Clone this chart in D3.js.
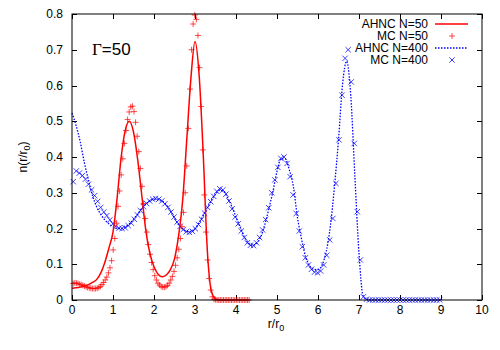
<!DOCTYPE html>
<html>
<head>
<meta charset="utf-8">
<script src="https://cdnjs.cloudflare.com/ajax/libs/d3/7.8.5/d3.min.js"></script>
<style>
  body { margin: 0; background: #fff; }
  svg text { font-family: "Liberation Sans", Arial, sans-serif; font-size: 12px; fill: #000; }
</style>
</head>
<body>
<svg id="mysvg" width="500" height="350"></svg>
<script>
// AHNC curves, sampled every 0.1 in r/r0
var ahnc50R0 = 0, ahnc50Step = 0.1;
var ahnc50 = [0.033, 0.034, 0.036, 0.039, 0.043, 0.049, 0.057, 0.075, 0.105, 0.145,
              0.19, 0.285, 0.40, 0.475, 0.50, 0.47, 0.395, 0.295, 0.195, 0.13,
              0.093, 0.072, 0.065, 0.07, 0.085, 0.115, 0.18, 0.28, 0.45, 0.62,
              0.723, 0.63, 0.41, 0.14, 0.025, 0.003, 0];

var ahnc400R0 = 0, ahnc400Step = 0.1;
var ahnc400 = [0.523, 0.488, 0.443, 0.385, 0.336, 0.292, 0.261, 0.24, 0.224, 0.213,
               0.205, 0.2, 0.2, 0.205, 0.213, 0.226, 0.24, 0.256, 0.268, 0.278,
               0.282, 0.282, 0.277, 0.266, 0.25, 0.229, 0.211, 0.199, 0.192, 0.191,
               0.2, 0.216, 0.236, 0.258, 0.279, 0.296, 0.307, 0.304, 0.285, 0.261,
               0.232, 0.204, 0.177, 0.16, 0.153, 0.158, 0.176, 0.21, 0.255, 0.303,
               0.36, 0.395, 0.395, 0.364, 0.317, 0.23, 0.17, 0.12, 0.095, 0.086,
               0.085, 0.098, 0.135, 0.205, 0.315, 0.448, 0.605, 0.668, 0.57, 0.345,
               0.13, 0.012, 0.001, 0, 0, 0, 0, 0, 0, 0,
               0, 0, 0, 0, 0, 0, 0, 0, 0, 0, 0];

// MC histograms
var mc50R0 = 0.03, mc50Step = 0.039;
var mc50 = [0.046, 0.048, 0.047, 0.046, 0.044, 0.043, 0.041, 0.039, 0.037, 0.035,
            0.034, 0.033, 0.032, 0.032, 0.032, 0.033, 0.035, 0.038, 0.043, 0.049,
            0.056, 0.064, 0.076, 0.090, 0.110, 0.140, 0.172, 0.215, 0.262, 0.305,
            0.350, 0.395, 0.438, 0.474, 0.505, 0.526, 0.540, 0.542, 0.527, 0.497,
            0.458, 0.415, 0.368, 0.318, 0.270, 0.228, 0.190, 0.155, 0.128, 0.105,
            0.085, 0.068, 0.056, 0.047, 0.042, 0.038, 0.036, 0.036, 0.038, 0.041,
            0.047, 0.056, 0.066, 0.080, 0.097, 0.118, 0.142, 0.172, 0.205, 0.245,
            0.300, 0.375, 0.480, 0.590, 0.700, 0.772, 0.797, 0.785, 0.740, 0.650,
            0.541, 0.420, 0.294, 0.190, 0.112, 0.060, 0.028, 0.009, 0.002, 0.001,
            0, 0, 0, 0, 0, 0, 0, 0, 0, 0,
            0, 0, 0, 0, 0, 0, 0, 0, 0, 0, 0];

var mc400R0 = 0.03, mc400Step = 0.0745;
var mc400 = [0.331, 0.361, 0.355, 0.348, 0.338, 0.324, 0.308, 0.292, 0.276, 0.259,
             0.246, 0.236, 0.224, 0.213, 0.206, 0.201, 0.200, 0.202, 0.208, 0.215,
             0.226, 0.238, 0.250, 0.261, 0.270, 0.277, 0.282, 0.284, 0.282, 0.277,
             0.269, 0.259, 0.246, 0.232, 0.218, 0.206, 0.197, 0.191, 0.189, 0.192,
             0.199, 0.211, 0.226, 0.243, 0.259, 0.275, 0.290, 0.304, 0.311, 0.308,
             0.296, 0.277, 0.255, 0.232, 0.213, 0.193, 0.175, 0.160, 0.153, 0.152,
             0.160, 0.175, 0.196, 0.225, 0.258, 0.300, 0.336, 0.371, 0.396, 0.400,
             0.382, 0.345, 0.294, 0.242, 0.193, 0.149, 0.118, 0.098, 0.086, 0.078,
             0.076, 0.081, 0.098, 0.125, 0.168, 0.228, 0.326, 0.448, 0.573, 0.676,
             0.700, 0.610, 0.438, 0.247, 0.112, 0.009, 0.002, 0, 0, 0,
             0, 0, 0, 0, 0, 0, 0, 0, 0, 0,
             0, 0, 0, 0, 0, 0, 0, 0, 0, 0, 0];

var xTicks = [0, 1, 2, 3, 4, 5, 6, 7, 8, 9, 10];
var yTicks = [0, 0.1, 0.2, 0.3, 0.4, 0.5, 0.6, 0.7, 0.8];
var legendLabels = ["AHNC N=50", "MC N=50", "AHNC N=400", "MC N=400"];

function toPoints(r0, step, vals) {
  return vals.map(function(v, i) { return [r0 + i * step, v]; });
}

var svg = d3.select("#mysvg");
var pL = 72, pR = 482, pT = 14, pB = 300;

var x = d3.scaleLinear().domain([0, 10]).range([pL, pR]);
var y = d3.scaleLinear().domain([0, 0.8]).range([pB, pT]);

var red = "#ff0000", blue = "#0000ff";

// ticks (inward, mirrored)
var tk = svg.append("g").attr("stroke", "#000").attr("stroke-width", 1);
xTicks.forEach(function(t) {
  var px = Math.round(x(t)) + 0.5;
  tk.append("line").attr("x1", px).attr("x2", px).attr("y1", pB).attr("y2", pB - 5);
  tk.append("line").attr("x1", px).attr("x2", px).attr("y1", pT).attr("y2", pT + 5);
});
yTicks.forEach(function(t) {
  var py = Math.round(y(t)) + 0.5;
  tk.append("line").attr("x1", pL).attr("x2", pL + 5).attr("y1", py).attr("y2", py);
  tk.append("line").attr("x1", pR).attr("x2", pR - 5).attr("y1", py).attr("y2", py);
});

svg.selectAll(".xl").data(xTicks).enter().append("text")
  .attr("x", function(d) { return x(d); })
  .attr("y", pB + 14)
  .attr("text-anchor", "middle")
  .text(function(d) { return d; });

svg.selectAll(".yl").data(yTicks).enter().append("text")
  .attr("x", pL - 9)
  .attr("y", function(d) { return y(d) + 4; })
  .attr("text-anchor", "end")
  .text(function(d) { return d === 0 ? "0" : d.toFixed(1); });

// curves
var line = d3.line()
  .x(function(d) { return x(d[0]); })
  .y(function(d) { return y(d[1]); })
  .curve(d3.curveMonotoneX);

svg.append("path")
  .datum(toPoints(ahnc400R0, ahnc400Step, ahnc400).filter(function(d) { return d[0] <= 9.001; }))
  .attr("d", line)
  .attr("fill", "none")
  .attr("stroke", blue)
  .attr("stroke-width", 1.3)
  .attr("stroke-dasharray", "1.5,1.5");

var mcBlue = svg.append("g").attr("stroke", blue).attr("stroke-width", 1).attr("stroke-opacity", 0.75);
toPoints(mc400R0, mc400Step, mc400).forEach(function(d) {
  var cx = x(d[0]), cy = y(d[1]), s = 2.7;
  mcBlue.append("path").attr("d", "M" + (cx - s) + "," + (cy - s) + "L" + (cx + s) + "," + (cy + s) +
                                  "M" + (cx - s) + "," + (cy + s) + "L" + (cx + s) + "," + (cy - s));
});

svg.append("path")
  .datum(toPoints(ahnc50R0, ahnc50Step, ahnc50))
  .attr("d", line)
  .attr("fill", "none")
  .attr("stroke", red)
  .attr("stroke-width", 1.5);

var mcRed = svg.append("g").attr("stroke", red).attr("stroke-width", 1).attr("stroke-opacity", 0.7);
toPoints(mc50R0, mc50Step, mc50).forEach(function(d) {
  var cx = x(d[0]), cy = y(d[1]), s = 3;
  mcRed.append("path").attr("d", "M" + (cx - s) + "," + cy + "L" + (cx + s) + "," + cy +
                                 "M" + cx + "," + (cy - s) + "L" + cx + "," + (cy + s));
});

// border
svg.append("rect")
  .attr("x", pL).attr("y", pT)
  .attr("width", pR - pL).attr("height", pB - pT)
  .attr("fill", "none").attr("stroke", "#000").attr("stroke-width", 1);

// legend
var lg = svg.append("g");
var rows = [24, 36, 48, 60];
legendLabels.forEach(function(lab, i) {
  lg.append("text").attr("x", 428).attr("y", rows[i] + 4).attr("text-anchor", "end").text(lab);
});
lg.append("line").attr("x1", 435).attr("x2", 468).attr("y1", rows[0]).attr("y2", rows[0])
  .attr("stroke", red).attr("stroke-width", 1.5);
lg.append("path").attr("d", "M449," + rows[1] + "L455," + rows[1] + "M452," + (rows[1] - 3) + "L452," + (rows[1] + 3))
  .attr("stroke", red).attr("stroke-opacity", 0.7);
lg.append("line").attr("x1", 435).attr("x2", 468).attr("y1", rows[2]).attr("y2", rows[2])
  .attr("stroke", blue).attr("stroke-width", 1.3).attr("stroke-dasharray", "1.5,1.5");
lg.append("path").attr("d", "M449.3," + (rows[3] - 2.7) + "L454.7," + (rows[3] + 2.7) + "M449.3," + (rows[3] + 2.7) + "L454.7," + (rows[3] - 2.7))
  .attr("stroke", blue).attr("stroke-opacity", 0.75);

// Gamma label
var g = svg.append("text").attr("x", 92).attr("y", 55).style("font-size", "17px");
g.append("tspan").style("font-family", "'Liberation Serif', serif").text("Γ");
g.append("tspan").text("=50");

// axis titles
var xt = svg.append("text").attr("x", 276).attr("y", 328).attr("text-anchor", "middle");
xt.append("tspan").text("r/r");
xt.append("tspan").attr("dy", 3).style("font-size", "9px").text("0");

var yt = svg.append("text").attr("transform", "translate(27,157) rotate(-90)").attr("text-anchor", "middle");
yt.append("tspan").text("n(r/r");
yt.append("tspan").attr("dy", 3).style("font-size", "9px").text("0");
yt.append("tspan").attr("dy", -3).text(")");
</script>
</body>
</html>
